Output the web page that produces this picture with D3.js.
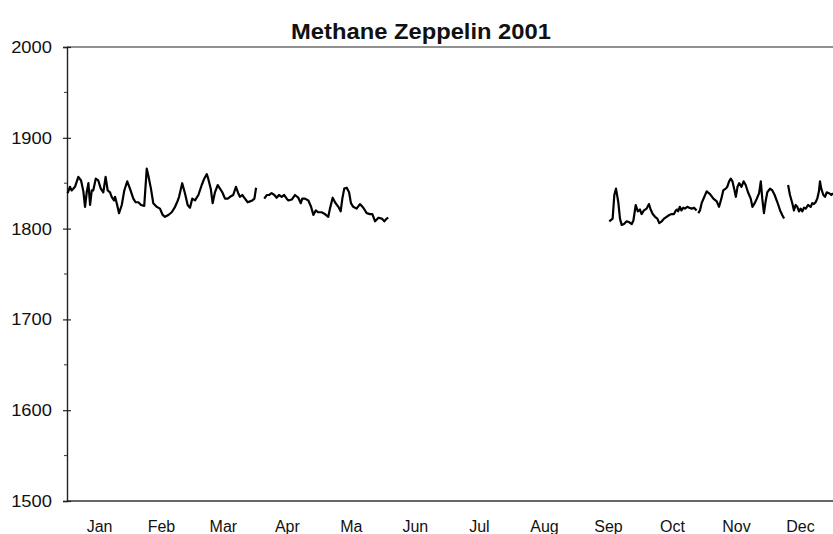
<!DOCTYPE html>
<html>
<head>
<meta charset="utf-8">
<script src="https://cdn.jsdelivr.net/npm/d3@7"></script>
<style>
  html, body { margin: 0; padding: 0; background: #fff; }
  svg { display: block; }
  text { font-family: "Liberation Sans", Arial, Helvetica, sans-serif; fill: #111; }
</style>
</head>
<body>
<svg id="chart" width="833" height="534"></svg>
<script>
// Methane (ppb) measured at Zeppelin station, 2001. Day of year (0 = 1 Jan).
// null values mark breaks in the record.
const dayOfYear = [
  0.3, 1.4, 2.2, 3.0, 3.8, 5.4, 6.7, 7.8, 8.6, 9.4, 10.2, 11.0, 11.8, 12.5, 13.7, 14.9,
  16.1, 17.3, 18.4, 19.4, 20.5, 21.3, 22.4, 22.9, 23.7, 24.8, 26.1, 27.3, 28.7, 30.0,
  31.6, 32.7, 34.0, 35.3, 36.8, 38.0, 38.7, 40.0, 41.1, 42.7, 44.3, 45.6, 46.7, 48.3,
  49.9, 51.5, 52.8, 53.4, 54.9, 56.2, 57.5, 58.6, 59.7, 61.0, 62.6, 64.2, 65.4, 66.6,
  67.3, 68.5, 69.4, 70.5, 71.8, 72.9, 74.0, 75.3, 76.6, 77.7, 79.2, 80.5, 81.6, 82.4,
  83.5, 84.8, 86.1, 87.2, 88.3, 89.3, 90.1,
  92.0,
  94.0, 95.2, 96.3, 97.5, 98.8, 99.9, 101.0, 102.3, 103.5, 104.7, 105.5, 107.1, 108.6,
  110.2, 111.4, 112.1, 113.4, 115.0, 116.3, 117.4, 118.5, 119.7, 121.3, 122.9, 124.5,
  125.3, 126.6, 127.7, 129.3, 130.4, 131.2, 132.1, 133.3, 134.4, 135.3, 136.4, 138.0,
  139.6, 141.2, 142.8, 144.4, 145.5, 146.8, 148.4, 150.0, 151.2, 152.3, 153.1,
  200.0,
  258.4, 260.0, 260.8, 261.6, 262.7, 263.5, 264.3, 265.4, 266.7, 267.9, 269.1, 269.9,
  271.0, 272.0, 273.0, 273.8, 274.9, 276.2, 277.3, 278.1, 279.1, 280.2, 281.3, 282.2,
  283.4, 284.5, 285.7, 287.0, 288.1, 289.2, 290.1, 290.8, 291.2, 292.0, 292.8, 293.6,
  294.4, 295.6, 296.5, 297.7, 298.8, 300.0,
  300.4,
  300.8, 301.6, 302.4, 303.5, 304.8, 306.4, 308.0, 309.6, 310.7, 311.8, 312.7, 313.9,
  314.6, 315.5, 316.3, 317.1, 317.9, 318.7, 319.5, 320.3, 321.4, 322.4, 323.4, 324.5,
  325.8, 326.6, 327.7, 328.7, 329.8, 330.6, 331.3, 332.1, 332.9, 333.7, 335.0, 336.1,
  337.2, 338.5, 339.8, 340.8, 341.7,
  342.6,
  343.6, 344.5, 345.6, 346.4, 347.2, 348.0, 348.8, 349.6, 350.4, 351.2, 352.0, 353.1,
  354.4, 355.1, 355.9, 356.7, 357.5, 358.3, 358.8, 359.4, 360.4, 361.2, 362.0, 363.1,
  364.2, 365.0
];
const methane = [
  1839, 1846, 1842, 1844, 1846, 1857, 1853, 1841, 1824, 1840, 1850, 1826, 1842, 1842, 1855, 1853,
  1844, 1840, 1857, 1842, 1840, 1835, 1831, 1835, 1828, 1817, 1826, 1842, 1852, 1844,
  1833, 1829, 1829, 1826, 1825, 1866, 1859, 1844, 1828, 1824, 1822, 1815, 1813, 1815,
  1818, 1824, 1831, 1835, 1850, 1839, 1826, 1823, 1833, 1831, 1837, 1848, 1855, 1860,
  1855, 1844, 1828, 1840, 1848, 1844, 1840, 1833, 1833, 1835, 1837, 1846, 1839, 1835,
  1837, 1833, 1829, 1830, 1831, 1833, 1845,
  null,
  1833, 1837, 1837, 1839, 1837, 1834, 1837, 1835, 1837, 1833, 1831, 1832, 1837,
  1834, 1828, 1833, 1833, 1831, 1824, 1815, 1820, 1818, 1818, 1816, 1813,
  1822, 1834, 1829, 1824, 1819, 1833, 1844, 1845, 1840, 1828, 1824, 1822,
  1827, 1823, 1817, 1816, 1816, 1808, 1812, 1811, 1808, 1811, 1812,
  null,
  1808, 1811, 1837, 1844, 1829, 1811, 1804, 1805, 1808, 1807, 1805, 1809,
  1826, 1819, 1821, 1816, 1820, 1822, 1827, 1821, 1816, 1813, 1811, 1806,
  1808, 1811, 1813, 1815, 1816, 1816, 1820, 1821, 1819, 1824, 1820, 1823,
  1822, 1824, 1823, 1822, 1823, 1820,
  null,
  1817, 1820, 1828, 1834, 1841, 1838, 1833, 1830, 1824, 1833, 1842, 1844,
  1846, 1852, 1855, 1852, 1844, 1835, 1846, 1850, 1846, 1852, 1848, 1840,
  1833, 1824, 1828, 1833, 1839, 1852, 1833, 1817, 1830, 1840, 1844, 1842,
  1837, 1829, 1820, 1815, 1811,
  null,
  1848, 1837, 1828, 1820, 1826, 1824, 1819, 1822, 1819, 1823, 1822, 1826,
  1824, 1828, 1827, 1829, 1833, 1841, 1852, 1844, 1837, 1835, 1840, 1839,
  1837, 1839
];

const monthLabels = ["Jan", "Feb", "Mar", "Apr", "Ma", "Jun", "Jul", "Aug", "Sep", "Oct", "Nov", "Dec"];
const monthStartDays = [0, 31, 59, 90, 120, 151, 181, 212, 243, 273, 304, 334, 365];
const yMajorTicks = [1500, 1600, 1700, 1800, 1900, 2000];
const yMinorTicks = [1550, 1650, 1750, 1850, 1950];
const chartTitle = "Methane Zeppelin 2001";

const svg = d3.select("#chart");
const plot = { left: 67, right: 833, top: 47, bottom: 501 };

const x = d3.scaleLinear().domain([0, 365]).range([plot.left, plot.right]);
const y = d3.scaleLinear().domain([1500, 2000]).range([plot.bottom, plot.top]);

// frame: top border and bottom axis line
svg.append("line")
  .attr("x1", plot.left).attr("x2", plot.right).attr("y1", y(2000)).attr("y2", y(2000))
  .attr("stroke", "#222").attr("stroke-width", 1.2);
svg.append("line")
  .attr("x1", plot.left).attr("x2", plot.right).attr("y1", y(1500)).attr("y2", y(1500))
  .attr("stroke", "#333").attr("stroke-width", 1.4);

// y axis with major ticks crossing the axis line
const yAxis = d3.axisLeft(y).tickValues(yMajorTicks).tickSize(4).tickPadding(11)
  .tickFormat(d3.format("d"));
const gy = svg.append("g").attr("transform", `translate(${plot.left},0)`).call(yAxis);
gy.select(".domain").attr("stroke", "#222").attr("stroke-width", 1.4);
gy.selectAll(".tick line").attr("x2", -4).attr("x1", 4).attr("stroke", "#222").attr("stroke-width", 1.2);
gy.selectAll(".tick text")
  .style("font-family", '"Liberation Sans", Arial, sans-serif')
  .attr("font-size", 17).attr("fill", "#111")
  .attr("transform", "scale(1.08,1)")
  .attr("x", -15 / 1.08);

// minor ticks at the half-hundreds
svg.append("g").selectAll("line").data(yMinorTicks).join("line")
  .attr("x1", plot.left - 3).attr("x2", plot.left)
  .attr("y1", d => y(d)).attr("y2", d => y(d))
  .attr("stroke", "#333").attr("stroke-width", 1);

// month labels centred in each month
const monthMid = monthLabels.map((m, i) => ({
  label: m, day: (monthStartDays[i] + monthStartDays[i + 1]) / 2
}));
svg.append("g").selectAll("text").data(monthMid).join("text")
  .attr("x", d => x(d.day))
  .attr("y", 532)
  .attr("text-anchor", "middle")
  .attr("font-size", 16)
  .text(d => d.label);

// methane series
const points = dayOfYear.map((d, i) => ({ day: d, v: methane[i] }));
const line = d3.line()
  .defined(d => d.v !== null)
  .x(d => x(d.day))
  .y(d => y(d.v));
svg.append("path")
  .datum(points)
  .attr("fill", "none")
  .attr("stroke", "#000")
  .attr("stroke-width", 2.2)
  .attr("stroke-linejoin", "round")
  .attr("d", line);

// title
svg.append("text")
  .attr("x", 421).attr("y", 39)
  .attr("text-anchor", "middle")
  .attr("font-size", 22)
  .attr("font-weight", "bold")
  .attr("transform", "translate(421,0) scale(1.08,1) translate(-421,0)")
  .text(chartTitle);
</script>
</body>
</html>
